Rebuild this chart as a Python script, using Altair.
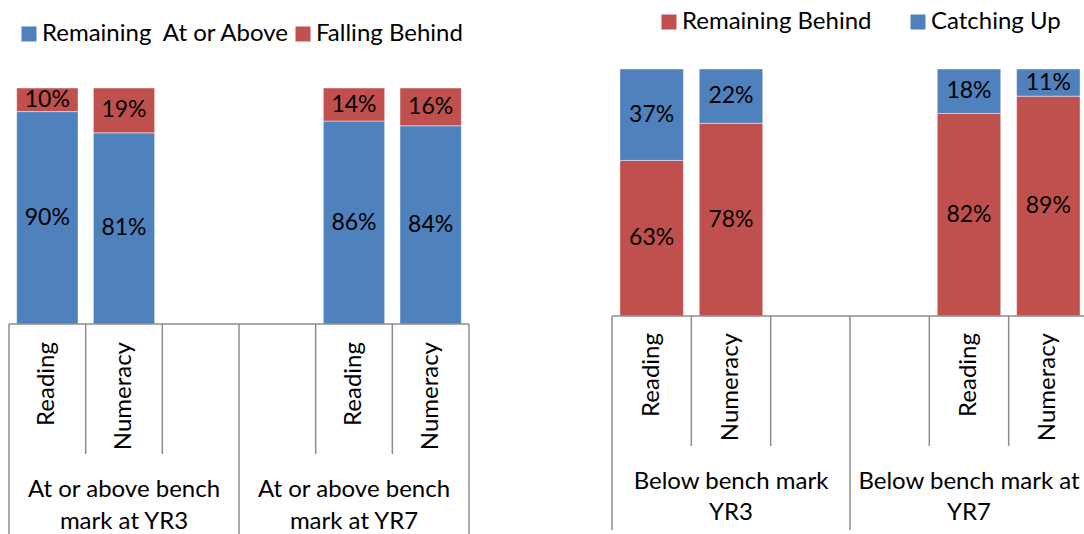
import altair as alt
import pandas as pd

FONT = "Lato"
BLUE = "#4F81BD"
RED = "#C0504D"
AXIS_GREY = "#8C8C8C"
WORD_SIZE = 24
VALUE_SIZE = 23

# Category slots along each axis (blank slots separate the two groups)
slot_labels = ["Reading", "Numeracy", "", "", "Reading", "Numeracy"]

# Left panel: students at or above the bench mark
left_groups = ["At or above bench\nmark at YR3", "At or above bench\nmark at YR7"]
left_series = ["Remaining\u00a0 At or Above", "Falling Behind"]
left_remaining = [90, 81, None, None, 86, 84]
left_falling = [10, 19, None, None, 14, 16]

# Right panel: students below the bench mark
right_groups = ["Below bench mark\nYR3", "Below bench mark at\nYR7"]
right_series = ["Remaining Behind", "Catching Up"]
right_behind = [63, 78, None, None, 82, 89]
right_catching = [37, 22, None, None, 18, 11]


def stacked_frame(series, value_lists):
    rows = []
    for i, _ in enumerate(slot_labels):
        base = 0
        for name, vals in zip(series, value_lists):
            v = vals[i]
            if v is None:
                continue
            rows.append(dict(slot=i, series=name, value=v, y0=base, y1=base + v,
                             mid=base + v / 2, label=f"{v}%"))
            base += v
    return pd.DataFrame(rows)


def panel(series, value_lists, colors, groups, x_range, y_range,
          cat_label_top, inner_tick_len, border_len, group_label_y, group_line_h,
          legend_x, legend_y, legend_gap):
    df = stacked_frame(series, value_lists)
    xs = alt.Scale(domain=[0, len(slot_labels)], range=x_range, nice=False, zero=False)
    ys = alt.Scale(domain=[0, 100], range=y_range, nice=False)
    axis_y = y_range[0]

    color = alt.Color(
        "series:N",
        scale=alt.Scale(domain=series, range=colors),
        legend=alt.Legend(
            orient="none", legendX=legend_x, legendY=legend_y,
            direction="horizontal", title=None, symbolType="square",
            symbolSize=225, symbolStrokeWidth=0, labelFont=FONT,
            labelFontSize=WORD_SIZE, labelColor="black", labelOffset=1,
            columnPadding=legend_gap, labelLimit=500, padding=0,
        ),
    )

    bars = (
        alt.Chart(df)
        .transform_calculate(xa="datum.slot + 0.1", xb="datum.slot + 0.9")
        .mark_bar(stroke="white", strokeWidth=1, strokeOpacity=0.45)
        .encode(
            x=alt.X("xa:Q", scale=xs, axis=None),
            x2="xb:Q",
            y=alt.Y("y0:Q", scale=ys, axis=None),
            y2="y1:Q",
            color=color,
        )
    )

    values = (
        alt.Chart(df)
        .transform_calculate(xc="datum.slot + 0.5")
        .mark_text(font=FONT, fontSize=VALUE_SIZE, color="black", baseline="middle")
        .encode(
            x=alt.X("xc:Q", scale=xs, axis=None),
            y=alt.Y("mid:Q", scale=ys, axis=None),
            text="label:N",
        )
    )

    # category axis: baseline, slot dividers and group dividers
    n = len(slot_labels)
    baseline = (
        alt.Chart(pd.DataFrame({"a": [0], "b": [n], "v": [0]}))
        .mark_rule(color=AXIS_GREY, strokeWidth=1.5)
        .encode(x=alt.X("a:Q", scale=xs, axis=None), x2="b:Q",
                y=alt.Y("v:Q", scale=ys, axis=None))
    )
    inner = [b for b in range(1, n) if b != n // 2]
    borders = [0, n // 2, n]
    inner_ticks = (
        alt.Chart(pd.DataFrame({"b": inner}))
        .mark_rule(color=AXIS_GREY, strokeWidth=1.5)
        .encode(x=alt.X("b:Q", scale=xs, axis=None),
                y=alt.value(axis_y), y2=alt.value(axis_y + inner_tick_len))
    )
    border_ticks = (
        alt.Chart(pd.DataFrame({"b": borders}))
        .mark_rule(color=AXIS_GREY, strokeWidth=1.5)
        .encode(x=alt.X("b:Q", scale=xs, axis=None),
                y=alt.value(axis_y), y2=alt.value(axis_y + border_len))
    )

    cats = pd.DataFrame({"slot": range(n), "name": slot_labels})
    cat_text = (
        alt.Chart(cats[cats["name"] != ""])
        .transform_calculate(xc="datum.slot + 0.5")
        .mark_text(font=FONT, fontSize=WORD_SIZE, color="black", angle=270,
                   align="right", baseline="middle")
        .encode(x=alt.X("xc:Q", scale=xs, axis=None),
                y=alt.value(cat_label_top), text="name:N")
    )

    grp = pd.DataFrame({"g": groups, "c": [n / 4, 3 * n / 4]})
    grp_text = (
        alt.Chart(grp)
        .mark_text(font=FONT, fontSize=WORD_SIZE, color="black", align="center",
                   baseline="middle", lineBreak="\n", lineHeight=group_line_h)
        .encode(x=alt.X("c:Q", scale=xs, axis=None),
                y=alt.value(group_label_y), text="g:N")
    )

    return alt.layer(bars, values, baseline, inner_ticks, border_ticks,
                     cat_text, grp_text)


left = panel(left_series, [left_remaining, left_falling], [BLUE, RED], left_groups,
             x_range=[9, 469], y_range=[324, 88], cat_label_top=342,
             inner_tick_len=130, border_len=215, group_label_y=490, group_line_h=32,
             legend_x=17, legend_y=22, legend_gap=-4)

right = panel(right_series, [right_behind, right_catching], [RED, BLUE], right_groups,
              x_range=[612, 1088], y_range=[316, 69], cat_label_top=333,
              inner_tick_len=130, border_len=214, group_label_y=482, group_line_h=31,
              legend_x=657, legend_y=10, legend_gap=34)

chart = (
    alt.layer(left, right)
    .resolve_scale(x="independent", y="independent", color="independent")
    .resolve_legend(color="independent")
    .properties(width=1084, height=534, autosize=alt.AutoSizeParams(type="none"),
                padding=0, background="white")
    .configure_view(stroke=None)
)

chart.save("out.html", embed_options={"renderer": "svg", "actions": False})
